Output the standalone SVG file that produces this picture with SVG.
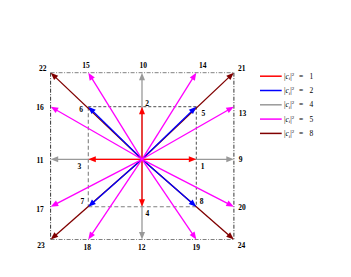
<svg xmlns="http://www.w3.org/2000/svg" width="351" height="277" viewBox="0 0 351 277">
<style>
.lbl{font-family:"Liberation Serif","DejaVu Serif",serif;font-size:7.5px;font-weight:bold;fill:#000;text-anchor:middle}
.leg{font-family:"Liberation Serif","DejaVu Serif",serif;font-size:7.5px;fill:#000}
.a{fill:none;stroke-width:1.3}
.r{stroke:#ff0000}.b{stroke:#0000ff}.g{stroke:#999999}.m{stroke:#ff00ff}.d{stroke:#800000}
.gdash{stroke:#808080;stroke-width:1.1;stroke-dasharray:4 2.5;fill:none}
.kdash{stroke:#000;stroke-width:0.7;stroke-dasharray:3 2;fill:none}
.gdd{stroke:#808080;stroke-width:1;stroke-dasharray:4 1.5 1 1.5;fill:none}
.kdd{stroke:#000;stroke-width:0.8;stroke-dasharray:4 1.5 1 1.5;fill:none}
</style>
<defs>
<marker id="hr" markerUnits="userSpaceOnUse" orient="auto" refX="2.5" refY="0" markerWidth="10" markerHeight="10" overflow="visible"><path d="M0,-3 L7.5,0 L0,3 z" fill="#ff0000"/></marker>
<marker id="hb" markerUnits="userSpaceOnUse" orient="auto" refX="2.5" refY="0" markerWidth="10" markerHeight="10" overflow="visible"><path d="M0,-3 L7.5,0 L0,3 z" fill="#0000ff"/></marker>
<marker id="hg" markerUnits="userSpaceOnUse" orient="auto" refX="2.5" refY="0" markerWidth="10" markerHeight="10" overflow="visible"><path d="M0,-3 L7.5,0 L0,3 z" fill="#999999"/></marker>
<marker id="hm" markerUnits="userSpaceOnUse" orient="auto" refX="2.5" refY="0" markerWidth="10" markerHeight="10" overflow="visible"><path d="M0,-3 L7.5,0 L0,3 z" fill="#ff00ff"/></marker>
<marker id="hd" markerUnits="userSpaceOnUse" orient="auto" refX="2.5" refY="0" markerWidth="10" markerHeight="10" overflow="visible"><path d="M0,-3 L7.5,0 L0,3 z" fill="#800000"/></marker>
</defs>
<rect width="351" height="277" fill="#fff"/>
<g id="frame">
<line class="gdd" x1="50.6" y1="72.7" x2="233.9" y2="72.7"/>
<line class="gdd" x1="50.6" y1="239.5" x2="233.9" y2="239.5"/>
<line class="kdd" x1="50.6" y1="72.7" x2="50.6" y2="239.5"/>
<line class="kdd" x1="233.9" y1="72.7" x2="233.9" y2="239.5"/>
<line class="gdash" x1="88.3" y1="106.7" x2="88.3" y2="206.7"/>
<line class="gdash" x1="88.3" y1="206.7" x2="196.3" y2="206.7"/>
<line class="kdash" x1="88.3" y1="106.7" x2="196.3" y2="106.7"/>
<line class="kdash" x1="196.3" y1="106.7" x2="196.3" y2="206.7"/>
</g>
<g id="connectors">
<g class="a g">
<line x1="142" y1="159.3" x2="228.8" y2="159.3" marker-end="url(#hg)"/>
<line x1="142" y1="159.3" x2="55.7" y2="159.3" marker-end="url(#hg)"/>
<line x1="142" y1="159.3" x2="142" y2="77.7" marker-end="url(#hg)"/>
<line x1="142" y1="159.3" x2="142" y2="234.5" marker-end="url(#hg)"/>
</g>
<g class="a d">
<line x1="142" y1="159.3" x2="230.16" y2="76.13" marker-end="url(#hd)"/>
<line x1="142" y1="159.3" x2="54.33" y2="76.14" marker-end="url(#hd)"/>
<line x1="142" y1="159.3" x2="54.46" y2="236.2" marker-end="url(#hd)"/>
<line x1="142" y1="159.3" x2="230.04" y2="236.21" marker-end="url(#hd)"/>
</g>
<g class="a r">
<line x1="142" y1="159.3" x2="191.3" y2="159.3" marker-end="url(#hr)"/>
<line x1="142" y1="159.3" x2="142" y2="111.7" marker-end="url(#hr)"/>
<line x1="142" y1="159.3" x2="93.3" y2="159.3" marker-end="url(#hr)"/>
<line x1="142" y1="159.3" x2="142" y2="201.7" marker-end="url(#hr)"/>
</g>
<g class="a b">
<line x1="142" y1="159.3" x2="192.71" y2="110.18" marker-end="url(#hb)"/>
<line x1="142" y1="159.3" x2="91.87" y2="110.2" marker-end="url(#hb)"/>
<line x1="142" y1="159.3" x2="92.05" y2="203.39" marker-end="url(#hb)"/>
<line x1="142" y1="159.3" x2="192.53" y2="203.41" marker-end="url(#hb)"/>
</g>
<g class="a m">
<line x1="142" y1="159.3" x2="229.46" y2="109.19" marker-end="url(#hm)"/>
<line x1="142" y1="159.3" x2="193.64" y2="76.94" marker-end="url(#hm)"/>
<line x1="142" y1="159.3" x2="90.94" y2="76.95" marker-end="url(#hm)"/>
<line x1="142" y1="159.3" x2="55.03" y2="109.2" marker-end="url(#hm)"/>
<line x1="142" y1="159.3" x2="55.14" y2="204.4" marker-end="url(#hm)"/>
<line x1="142" y1="159.3" x2="91.08" y2="235.35" marker-end="url(#hm)"/>
<line x1="142" y1="159.3" x2="193.5" y2="235.36" marker-end="url(#hm)"/>
<line x1="142" y1="159.3" x2="229.36" y2="204.41" marker-end="url(#hm)"/>
</g>
</g>
<g id="n1"><text class="lbl" x="202.5" y="169">1</text></g>
<g id="n2"><text class="lbl" x="147" y="106">2</text></g>
<g id="n3"><text class="lbl" x="79.3" y="169.3">3</text></g>
<g id="n4"><text class="lbl" x="147.3" y="216.2">4</text></g>
<g id="n5"><text class="lbl" x="203.3" y="116">5</text></g>
<g id="n6"><text class="lbl" x="81" y="112">6</text></g>
<g id="n7"><text class="lbl" x="82.3" y="204.3">7</text></g>
<g id="n8"><text class="lbl" x="201.5" y="204.3">8</text></g>
<g id="n9"><text class="lbl" x="240.5" y="162">9</text></g>
<g id="n10"><text class="lbl" x="143.3" y="68.3">10</text></g>
<g id="n11"><text class="lbl" x="40" y="162.6">11</text></g>
<g id="n12"><text class="lbl" x="141.7" y="250">12</text></g>
<g id="n13"><text class="lbl" x="242.5" y="116">13</text></g>
<g id="n14"><text class="lbl" x="202.7" y="68.3">14</text></g>
<g id="n15"><text class="lbl" x="86" y="68.3">15</text></g>
<g id="n16"><text class="lbl" x="40" y="110">16</text></g>
<g id="n17"><text class="lbl" x="40" y="212">17</text></g>
<g id="n18"><text class="lbl" x="87.3" y="250">18</text></g>
<g id="n19"><text class="lbl" x="196.3" y="250">19</text></g>
<g id="n20"><text class="lbl" x="242" y="210">20</text></g>
<g id="n21"><text class="lbl" x="241.7" y="71">21</text></g>
<g id="n22"><text class="lbl" x="42.7" y="71">22</text></g>
<g id="n23"><text class="lbl" x="41" y="247.7">23</text></g>
<g id="n24"><text class="lbl" x="241.5" y="248">24</text></g>
<g id="legend">
<line x1="260" y1="76.2" x2="281.7" y2="76.2" stroke="#ff0000" stroke-width="1.5"/>
<line x1="260" y1="90.5" x2="281.7" y2="90.5" stroke="#0000ff" stroke-width="1.5"/>
<line x1="260" y1="104.8" x2="281.7" y2="104.8" stroke="#999999" stroke-width="1.5"/>
<line x1="260" y1="119.1" x2="281.7" y2="119.1" stroke="#ff00ff" stroke-width="1.5"/>
<line x1="260" y1="133.4" x2="281.7" y2="133.4" stroke="#800000" stroke-width="1.5"/>
<text class="leg" x="284" y="78.8">|<tspan font-style="italic">c</tspan><tspan font-size="5" dy="1.5" font-style="italic">i</tspan><tspan dy="-1.5">|</tspan><tspan font-size="5" dy="-3">2</tspan><tspan x="299" dy="3">=</tspan><tspan x="309.5">1</tspan></text>
<text class="leg" x="284" y="93.1">|<tspan font-style="italic">c</tspan><tspan font-size="5" dy="1.5" font-style="italic">i</tspan><tspan dy="-1.5">|</tspan><tspan font-size="5" dy="-3">2</tspan><tspan x="299" dy="3">=</tspan><tspan x="309.5">2</tspan></text>
<text class="leg" x="284" y="107.4">|<tspan font-style="italic">c</tspan><tspan font-size="5" dy="1.5" font-style="italic">i</tspan><tspan dy="-1.5">|</tspan><tspan font-size="5" dy="-3">2</tspan><tspan x="299" dy="3">=</tspan><tspan x="309.5">4</tspan></text>
<text class="leg" x="284" y="121.7">|<tspan font-style="italic">c</tspan><tspan font-size="5" dy="1.5" font-style="italic">i</tspan><tspan dy="-1.5">|</tspan><tspan font-size="5" dy="-3">2</tspan><tspan x="299" dy="3">=</tspan><tspan x="309.5">5</tspan></text>
<text class="leg" x="284" y="136">|<tspan font-style="italic">c</tspan><tspan font-size="5" dy="1.5" font-style="italic">i</tspan><tspan dy="-1.5">|</tspan><tspan font-size="5" dy="-3">2</tspan><tspan x="299" dy="3">=</tspan><tspan x="309.5">8</tspan></text>
</g>
</svg>
